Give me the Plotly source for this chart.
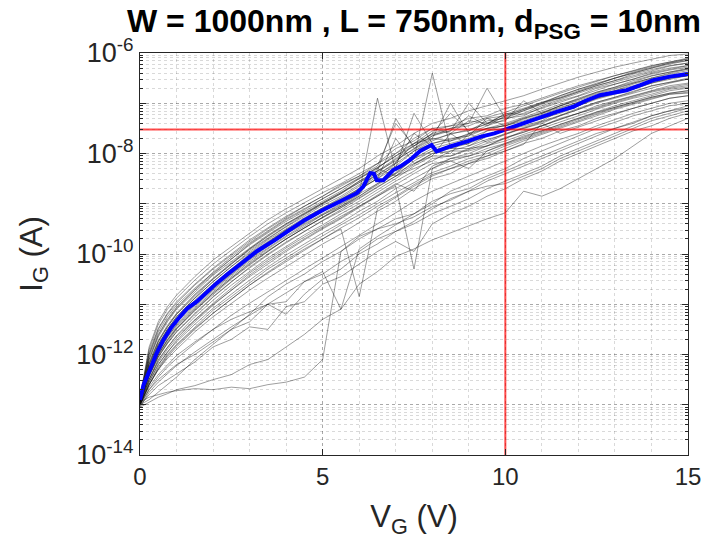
import plotly.graph_objects as go

# ---------------- data (log10 of gate current, A) ----------------
vg = [0, 0.25, 0.5, 0.75, 1, 1.5, 2, 2.5, 3, 3.5, 4, 4.5, 5, 5.5, 6, 6.5, 7, 7.5,
      8, 8.5, 9, 9.5, 10, 10.5, 11, 11.5, 12, 12.5, 13, 13.5, 14, 14.5, 15]

g01 = [-12.85, -11.9, -11.4, -11.1, -10.88, -10.52, -10.2, -9.92, -9.65, -9.4, -9.18, -8.98, -8.78, -8.6, -8.4, -8.2, -8.0, -7.7, -7.5, -7.45, -7.3, -7.25, -7.1, -7.02, -6.9, -6.78, -6.65, -6.55, -6.45, -6.35, -6.25, -6.18, -6.1]
g02 = [-12.88, -12.0, -11.5, -11.2, -10.98, -10.62, -10.3, -10.02, -9.75, -9.5, -9.28, -9.05, -8.85, -8.62, -8.45, -8.2, -7.9, -7.75, -7.5, -7.6, -7.35, -7.4, -7.22, -7.1, -6.98, -6.9, -6.78, -6.65, -6.55, -6.42, -6.33, -6.25, -6.2]
g03 = [-12.9, -12.2, -11.75, -11.45, -11.2, -10.82, -10.5, -10.2, -9.92, -9.68, -9.45, -9.22, -9.0, -8.8, -8.55, -8.35, -8.1, -7.85, -7.6, -7.2, -7.55, -7.35, -7.3, -7.25, -7.08, -6.95, -6.85, -6.7, -6.62, -6.52, -6.4, -6.32, -6.25]
g04 = [-12.92, -12.3, -11.85, -11.55, -11.3, -10.95, -10.62, -10.32, -10.03, -9.77, -9.52, -9.3, -9.08, -8.9, -8.7, -8.45, -8.25, -7.95, -7.8, -7.7, -7.65, -7.5, -7.45, -7.3, -7.2, -7.05, -6.95, -6.82, -6.72, -6.6, -6.5, -6.42, -6.35]
g05 = [-12.95, -12.35, -11.95, -11.65, -11.4, -11.02, -10.7, -10.4, -10.1, -9.85, -9.6, -9.4, -9.2, -9.0, -8.8, -6.9, -8.35, -8.1, -7.95, -7.85, -7.8, -7.55, -7.5, -7.42, -7.3, -7.2, -7.05, -6.9, -6.8, -6.72, -6.6, -6.52, -6.45]
g06 = [-12.93, -12.4, -12.0, -11.72, -11.48, -11.1, -10.78, -10.48, -10.2, -9.95, -9.7, -9.48, -9.28, -9.08, -8.85, -8.6, -8.4, -8.1, -6.4, -7.9, -7.9, -7.75, -7.6, -7.5, -7.4, -7.25, -7.12, -7.0, -6.9, -6.8, -6.7, -6.6, -6.52]
g07 = [-12.95, -12.5, -12.1, -11.85, -11.62, -11.25, -10.92, -10.62, -10.35, -10.08, -9.85, -9.62, -9.42, -9.2, -9.0, -8.78, -8.55, -8.35, -8.1, -8.05, -7.9, -7.85, -7.7, -7.55, -7.45, -7.32, -7.2, -7.05, -6.95, -6.85, -6.75, -6.65, -6.6]
g08 = [-13.0, -12.55, -12.2, -11.95, -11.75, -11.4, -11.08, -10.8, -10.52, -10.26, -10.02, -9.8, -9.58, -9.38, -9.15, -8.95, -8.7, -8.5, -8.3, -8.1, -8.05, -7.9, -7.8, -7.68, -7.55, -7.42, -7.3, -7.18, -7.05, -6.95, -6.85, -6.75, -6.7]
g09 = [-13.0, -12.6, -12.3, -12.08, -11.9, -11.55, -11.25, -10.98, -10.72, -10.48, -10.25, -10.02, -9.8, -9.6, -9.38, -9.15, -8.95, -8.7, -8.5, -8.4, -8.2, -8.1, -7.95, -7.8, -7.7, -7.55, -7.45, -7.3, -7.2, -7.1, -7.0, -6.9, -6.85]
g10 = [-13.02, -12.7, -12.45, -12.25, -12.08, -11.78, -11.5, -11.22, -10.98, -10.75, -10.52, -10.3, -10.08, -9.85, -9.62, -9.4, -9.18, -8.95, -8.75, -8.6, -8.45, -8.3, -8.15, -8.0, -7.85, -7.72, -7.6, -7.45, -7.33, -7.2, -7.1, -7.0, -6.95]
g11 = [-13.05, -12.75, -12.55, -12.38, -12.22, -11.95, -11.7, -11.45, -11.22, -11.0, -10.78, -10.55, -10.35, -11.1, -9.9, -9.65, -9.42, -9.2, -9.0, -8.75, -8.6, -8.45, -8.3, -8.1, -7.95, -7.8, -7.65, -7.5, -7.38, -7.25, -7.15, -7.05, -7.0]
g12 = [-12.87, -12.0, -11.55, -11.25, -11.02, -10.68, -10.38, -10.1, -9.82, -9.58, -9.35, -9.15, -8.95, -8.75, -8.5, -8.3, -8.0, -7.8, -7.55, -7.45, -7.4, -6.7, -7.3, -7.15, -7.0, -6.88, -6.75, -6.62, -6.5, -6.4, -6.3, -6.22, -6.15]
g13 = [-12.92, -12.3, -11.9, -11.6, -11.35, -11.0, -10.68, -10.38, -10.08, -9.82, -9.58, -9.38, -9.15, -8.95, -8.72, -8.5, -7.7, -8.2, -8.05, -7.6, -7.85, -7.65, -7.55, -7.45, -7.35, -7.15, -7.05, -6.92, -6.82, -6.72, -6.6, -6.5, -6.45]
g14 = [-12.97, -12.45, -12.05, -11.78, -11.55, -11.18, -10.85, -10.55, -10.28, -10.02, -9.78, -9.55, -9.33, -9.12, -8.9, -8.68, -8.45, -8.3, -8.15, -7.95, -7.95, -7.85, -7.68, -7.58, -7.45, -7.3, -7.2, -7.1, -6.98, -6.88, -6.78, -6.7, -6.65]
g15 = [-12.88, -12.1, -11.65, -11.35, -11.1, -10.75, -10.42, -10.15, -9.88, -9.62, -9.4, -9.18, -8.98, -8.78, -8.55, -8.35, -7.3, -7.9, -7.65, -7.55, -7.25, -7.45, -7.25, -7.12, -7.0, -6.85, -6.72, -6.6, -6.5, -6.38, -6.28, -6.2, -6.12]
g16 = [-12.98, -12.5, -12.15, -11.9, -11.68, -11.32, -11.0, -10.72, -10.45, -10.2, -9.95, -9.72, -9.5, -9.3, -9.08, -8.85, -8.65, -10.3, -8.3, -8.15, -8.05, -7.95, -7.8, -7.65, -7.55, -7.42, -7.3, -7.18, -7.08, -6.98, -6.88, -6.8, -6.75]
g17 = [-12.94, -12.35, -11.95, -11.66, -11.42, -11.05, -10.72, -10.42, -10.12, -9.88, -9.64, -9.42, -9.22, -9.02, -8.8, -8.6, -8.38, -8.1, -7.9, -7.8, -7.7, -7.55, -7.42, -7.3, -7.18, -7.05, -6.92, -6.8, -6.7, -6.6, -6.5, -6.4, -6.32]
g18 = [-12.85, -11.85, -11.35, -11.05, -10.82, -10.45, -10.12, -9.85, -9.58, -9.32, -9.1, -8.9, -8.7, -8.5, -8.3, -8.05, -7.85, -7.6, -7.4, -7.3, -7.15, -7.05, -6.95, -6.85, -6.72, -6.6, -6.48, -6.38, -6.28, -6.2, -6.12, -6.05, -6.02]
g19 = [-13.0, -12.6, -12.28, -12.02, -11.82, -11.48, -11.18, -10.9, -10.62, -10.38, -10.15, -9.92, -9.7, -9.5, -10.85, -9.1, -8.88, -8.65, -8.45, -8.3, -8.15, -8.05, -7.9, -7.75, -7.62, -7.5, -7.38, -7.25, -7.12, -7.02, -6.92, -6.82, -6.78]
g20 = [-12.9, -12.2, -11.8, -11.5, -11.25, -10.88, -10.55, -10.25, -9.98, -9.72, -9.5, -9.28, -9.08, -8.88, -8.65, -8.42, -8.2, -7.95, -7.75, -7.6, -7.55, -7.4, -7.35, -6.95, -7.2, -7.05, -6.9, -6.78, -6.68, -6.55, -6.45, -6.38, -6.3]
g21 = [-12.9, -12.25, -11.82, -11.52, -11.28, -10.92, -10.6, -10.3, -10.0, -9.75, -9.52, -9.32, -9.1, -8.92, -8.7, -8.5, -8.2, -7.6, -7.85, -7.75, -7.65, -7.3, -7.45, -7.32, -7.2, -7.08, -6.98, -6.85, -6.75, -6.62, -6.52, -6.45, -6.38]
g22 = [-12.96, -12.42, -12.02, -11.75, -11.5, -11.12, -10.8, -10.5, -10.22, -9.95, -9.7, -9.48, -9.26, -9.05, -8.85, -8.62, -8.4, -8.2, -8.0, -7.9, -7.8, -7.65, -7.55, -7.38, -7.28, -7.15, -7.0, -6.9, -6.8, -6.68, -6.58, -6.5, -6.45]
g23 = [-12.88, -12.05, -11.6, -11.3, -11.06, -10.7, -10.36, -10.06, -9.78, -9.54, -9.3, -9.1, -8.9, -8.7, -8.48, -8.28, -8.05, -7.85, -7.65, -7.5, -7.45, -7.3, -7.25, -7.12, -6.98, -6.85, -6.72, -6.62, -6.5, -6.4, -6.3, -6.2, -6.15]
g24 = [-12.98, -12.55, -12.2, -11.95, -11.72, -11.35, -11.02, -10.72, -10.42, -10.16, -9.92, -9.7, -9.48, -9.28, -9.05, -8.82, -8.6, -8.75, -8.25, -8.1, -8.0, -7.85, -7.75, -7.62, -7.5, -7.38, -7.25, -7.12, -7.0, -6.9, -6.82, -6.72, -6.68]
g25 = [-12.9, -12.15, -11.72, -11.42, -11.18, -10.8, -10.48, -10.18, -9.9, -9.65, -9.42, -9.2, -9.0, -8.8, -8.58, -8.35, -8.15, -7.9, -7.7, -7.0, -7.6, -7.45, -7.32, -7.2, -7.05, -6.92, -6.8, -6.68, -6.58, -6.48, -6.38, -6.3, -6.25]
g26 = [-13.0, -12.6, -12.25, -12.0, -11.8, -11.45, -11.12, -10.85, -10.58, -10.3, -10.08, -9.85, -9.64, -9.42, -9.22, -9.0, -8.78, -8.58, -8.38, -8.25, -8.1, -8.0, -7.85, -7.72, -7.6, -7.48, -7.35, -7.22, -7.1, -7.0, -6.9, -6.82, -6.8]
h01 = [-12.9, -12.25, -11.8, -11.5, -11.25, -10.88, -10.55, -10.25, -9.95, -9.7, -9.46, -9.25, -9.03, -8.85, -8.62, -8.42, -8.18, -7.8, -7.7, -7.75, -7.6, -7.5, -7.4, -7.28, -7.15, -7.02, -6.92, -6.78, -6.68, -6.58, -6.46, -6.38, -6.32]
h02 = [-12.93, -12.38, -11.98, -11.7, -11.45, -11.08, -10.75, -10.45, -10.15, -9.9, -9.66, -9.45, -9.22, -9.05, -8.82, -8.3, -8.45, -8.15, -7.95, -8.0, -7.6, -7.78, -7.62, -7.5, -7.38, -7.25, -7.12, -6.98, -6.88, -6.78, -6.65, -6.58, -6.52]
h03 = [-12.88, -12.1, -11.62, -11.32, -11.08, -10.72, -10.4, -10.1, -9.8, -9.56, -9.32, -9.12, -8.9, -8.7, -8.5, -8.28, -8.05, -7.8, -7.62, -7.55, -7.0, -7.4, -7.28, -7.15, -7.02, -6.9, -6.78, -6.65, -6.55, -6.45, -6.35, -6.26, -6.2]
h04 = [-12.95, -12.42, -12.05, -11.78, -11.55, -11.2, -10.86, -10.56, -10.26, -10.0, -9.76, -9.55, -9.34, -9.15, -8.95, -8.72, -8.5, -8.25, -8.05, -8.05, -7.92, -7.8, -7.7, -7.58, -7.45, -7.32, -7.2, -7.08, -6.96, -6.86, -6.76, -6.68, -6.62]
h05 = [-12.86, -11.95, -11.48, -11.18, -10.95, -10.6, -10.28, -10.0, -9.72, -9.48, -9.25, -9.05, -8.85, -8.65, -8.45, -8.25, -7.4, -7.85, -7.6, -7.5, -7.4, -7.28, -7.18, -7.05, -6.92, -6.8, -6.68, -6.56, -6.45, -6.36, -6.26, -6.18, -6.12]
h06 = [-12.97, -12.5, -12.12, -11.86, -11.64, -11.3, -10.98, -10.68, -10.38, -10.12, -9.88, -9.66, -9.45, -9.25, -9.05, -8.85, -8.62, -8.4, -8.2, -8.15, -8.3, -7.95, -7.82, -7.7, -7.58, -7.45, -7.32, -7.2, -7.08, -6.98, -6.88, -6.8, -6.75]
h07 = [-12.91, -12.28, -11.86, -11.56, -11.32, -10.96, -10.62, -10.32, -10.02, -9.77, -9.54, -9.33, -9.12, -8.92, -8.72, -8.5, -8.28, -7.2, -7.8, -7.72, -7.62, -7.5, -7.45, -7.35, -7.22, -7.1, -6.98, -6.85, -6.75, -6.65, -6.55, -6.46, -6.4]
h08 = [-13.0, -12.6, -12.3, -12.05, -11.85, -11.5, -11.18, -10.9, -10.62, -10.36, -10.12, -9.9, -9.7, -9.48, -9.28, -9.05, -8.85, -8.62, -8.42, -8.3, -8.2, -8.05, -7.95, -7.82, -7.4, -7.6, -7.48, -7.35, -7.22, -7.1, -7.0, -6.9, -6.85]
h09 = [-12.89, -12.18, -11.74, -11.45, -11.2, -10.84, -10.5, -10.2, -9.9, -9.64, -9.4, -9.2, -8.98, -8.78, -8.58, -8.38, -8.12, -7.92, -7.72, -7.62, -7.52, -7.42, -7.2, -7.22, -7.1, -6.98, -6.86, -6.74, -6.62, -6.52, -6.42, -6.34, -6.28]
h10 = [-12.94, -12.4, -12.0, -11.72, -11.48, -11.12, -10.78, -10.48, -10.18, -9.93, -9.7, -9.48, -9.27, -9.08, -8.88, -8.66, -8.45, -8.22, -8.0, -7.95, -7.85, -7.72, -7.62, -7.48, -7.36, -7.24, -7.1, -6.98, -6.88, -6.76, -6.66, -6.58, -6.5]
o01 = [-12.95, -12.85, -12.8, -12.75, -12.72, -12.68, -12.7, -12.65, -12.68, -12.6, -12.55, -12.45, -12.1, -9.95, -9.7, -9.5, -9.3, -9.2, -8.95, -8.8, -8.7, -8.5, -8.35, -8.2, -8.05, -7.9, -7.75, -7.6, -7.5, -7.38, -7.25, -7.15, -7.1]
o02 = [-13.05, -12.95, -12.85, -12.78, -12.7, -12.62, -12.5, -12.4, -12.2, -12.1, -11.85, -11.6, -11.3, -11.1, -10.6, -10.35, -10.05, -9.9, -9.72, -9.58, -9.45, -9.3, -9.18, -8.75, -8.85, -8.7, -8.5, -8.3, -8.1, -7.85, -7.6, -7.45, -7.3]
o03 = [-13.0, -12.9, -12.75, -12.6, -12.45, -12.1, -11.8, -11.5, -11.2, -10.85, -10.6, -10.4, -10.15, -9.95, -9.65, -9.5, -9.4, -9.26, -9.06, -8.93, -8.75, -8.65, -8.6, -8.45, -8.3, -8.1, -7.95, -7.8, -7.65, -7.5, -7.35, -7.25, -7.15]
o04 = [-13.0, -12.7, -12.5, -12.35, -12.2, -12.0, -11.75, -11.5, -11.35, -11.0, -11.2, -10.8, -10.5, -10.3, -10.0, -9.8, -9.55, -9.35, -9.1, -8.9, -8.75, -8.55, -8.4, -8.25, -8.1, -7.95, -7.8, -7.65, -7.5, -7.4, -7.25, -7.15, -7.05]
o05 = [-13.02, -12.8, -12.62, -12.5, -12.38, -12.15, -11.85, -11.7, -11.45, -11.5, -11.05, -10.95, -10.6, -10.45, -10.2, -9.95, -9.75, -9.95, -9.4, -9.2, -9.05, -8.85, -8.7, -8.5, -8.35, -8.15, -8.0, -7.85, -7.7, -7.55, -7.45, -7.3, -7.2]
o06 = [-13.0, -12.65, -12.4, -12.2, -12.02, -11.75, -11.5, -11.3, -11.15, -11.0, -10.95, -10.55, -10.4, -10.15, -9.95, -9.7, -9.55, -9.4, -9.2, -9.05, -8.9, -8.7, -8.55, -8.4, -8.25, -8.05, -7.9, -7.75, -7.6, -7.45, -7.3, -7.2, -7.1]

# median curve
blue_v = [0, 0.1, 0.27, 0.45, 0.64, 0.85, 1.09, 1.3, 1.55, 1.8, 2.1, 2.4, 2.65, 2.9, 3.19,
          3.45, 3.7, 4.1, 4.5, 5.02, 5.5, 5.93, 6.11, 6.3, 6.4, 6.48, 6.66, 6.93, 7.12,
          7.39, 7.67, 7.98, 8.12, 8.49, 9.0, 9.31, 9.7, 10.04, 10.5, 10.95, 11.4, 11.86,
          12.2, 12.59, 12.95, 13.32, 13.7, 14.05, 14.5, 15]
blue_log = [-12.9, -12.6, -12.31, -11.98, -11.71, -11.47, -11.25, -11.08, -10.95, -10.78,
            -10.58, -10.4, -10.25, -10.1, -9.95, -9.83, -9.72, -9.52, -9.33, -9.12,
            -8.95, -8.79, -8.66, -8.39, -8.4, -8.53, -8.53, -8.33, -8.26, -8.13,
            -7.95, -7.83, -7.96, -7.86, -7.75, -7.67, -7.6, -7.51, -7.39, -7.27,
            -7.17, -7.07, -6.95, -6.84, -6.8, -6.74, -6.64, -6.54, -6.47, -6.42]

# reference lines
ref_v = 10
ref_i = 3e-8

x_ticks = [0, 5, 10, 15]
y_tick_vals = [1e-14, 1e-13, 1e-12, 1e-11, 1e-10, 1e-9, 1e-8, 1e-7, 1e-6]
y_tick_text = ["10<sup>-14</sup>", "", "10<sup>-12</sup>", "", "10<sup>-10</sup>", "",
               "10<sup>-8</sup>", "", "10<sup>-6</sup>"]

gray_curves = [g01, g02, g03, g04, g05, g06, g07, g08, g09, g10, g11, g12, g13,
               g14, g15, g16, g17, g18, g19, g20, g21, g22, g23, g24, g25, g26,
               h01, h02, h03, h04, h05, h06, h07, h08, h09, h10,
               o01, o02, o03, o04, o05, o06]

# ---------------- figure ----------------
FONT = "Liberation Sans, Arial, sans-serif"

fig = go.Figure()
for c in gray_curves:
    fig.add_trace(go.Scatter(x=vg, y=[10 ** v for v in c], mode="lines",
                             line=dict(color="rgba(0,0,0,0.38)", width=1),
                             showlegend=False, hoverinfo="skip"))
fig.add_trace(go.Scatter(x=blue_v, y=[10 ** v for v in blue_log], mode="lines",
                         line=dict(color="#0000ff", width=4), showlegend=False))
fig.add_trace(go.Scatter(x=[ref_v, ref_v], y=[1e-14, 1e-6], mode="lines",
                         line=dict(color="rgba(255,0,0,0.7)", width=2), showlegend=False))
fig.add_trace(go.Scatter(x=[0, 15], y=[ref_i, ref_i], mode="lines",
                         line=dict(color="rgba(255,0,0,0.7)", width=2), showlegend=False))

grid_major = "rgba(0,0,0,0.22)"
grid_minor = "rgba(0,0,0,0.15)"

fig.update_layout(
    width=704, height=555,
    margin=dict(l=140, r=16, t=53, b=100),
    paper_bgcolor="white", plot_bgcolor="white",
    font=dict(family=FONT, color="#262626"),
    title=dict(text="<b>W = 1000nm , L = 750nm, d<sub>PSG</sub> = 10nm</b>",
               x=0.5, xref="paper", xanchor="center",
               y=0.962, yref="container", yanchor="middle",
               font=dict(size=32, color="black", family=FONT)),
    xaxis=dict(range=[0, 15], tickvals=x_ticks, ticks="inside", ticklen=6,
               tickcolor="#262626", showline=True, linecolor="#262626", linewidth=1,
               mirror="ticks", showgrid=True, gridcolor=grid_major, griddash="dot",
               gridwidth=1, zeroline=False, tickfont=dict(size=24, family=FONT),
               minor=dict(dtick=1, showgrid=True, gridcolor=grid_minor, griddash="dot",
                          gridwidth=1, ticks=""),
               title=dict(text="V<sub>G</sub> (V)", font=dict(size=31, family=FONT),
                          standoff=16),
               automargin=False),
    yaxis=dict(type="log", range=[-14, -6], tickmode="array", tickvals=y_tick_vals,
               ticktext=y_tick_text, ticks="inside", ticklen=6, tickcolor="#262626",
               showline=True, linecolor="#262626", linewidth=1, mirror="ticks",
               showgrid=True, gridcolor=grid_major, griddash="dot", gridwidth=1,
               zeroline=False, tickfont=dict(size=27, family=FONT),
               minor=dict(dtick="D1", ticks="inside", ticklen=3, tickcolor="#262626",
                          showgrid=True, gridcolor=grid_minor, griddash="dot", gridwidth=1),
               title=dict(text="I<sub>G</sub> (A)", font=dict(size=31, family=FONT),
                          standoff=24),
               automargin=False),
)

fig.write_html("out.html")
